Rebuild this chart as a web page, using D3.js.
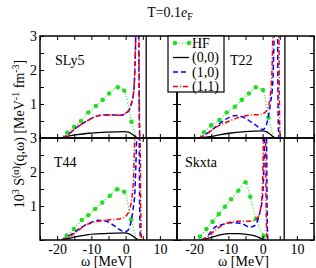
<!DOCTYPE html>
<html>
<head>
<meta charset="utf-8">
<script src="https://cdn.jsdelivr.net/npm/d3@7"></script>
<style>
  body { margin: 0; background: #fff; }
  svg { display: block; font-family: "Liberation Serif", "DejaVu Serif", serif; }
</style>
</head>
<body>
<svg id="chart" width="316" height="268"></svg>
<script>
// omega [MeV], S values
const xTicks = [-25, -20, -15, -10, -5, 0, 5, 10, 15];
const yTicks = [0, 0.5, 1, 1.5, 2, 2.5, 3];
const seriesNames = ["HF", "(0,0)", "(1,0)", "(1,1)"];
const panelNames = ["SLy5", "T22", "T44", "Skxta"];
const poles = [6.0, 6.5, 6.2, 6.3];

const sly5HF = [[-18.8, 0], [-17.0, 0.16], [-15.0, 0.33], [-13.0, 0.5], [-10.9, 0.75], [-8.7, 0.94], [-6.7, 1.12], [-4.8, 1.31], [-2.3, 1.49], [-0.4, 1.39], [1.7, 0.48], [3.2, 0]];
const sly5S00 = [[-18.5, 0], [-16.5, 0.06], [-14.7, 0.09], [-10.8, 0.14], [-5.9, 0.17], [-0.5, 0.19], [0.8, 0.17], [1.5, 0.14], [2.5, 0.07], [3.4, 0]];
const sly5S10 = [[-18.5, 0], [-16.5, 0.12], [-14.7, 0.28], [-12.5, 0.43], [-10.8, 0.53], [-9, 0.62], [-7.8, 0.66], [-6, 0.68], [-4, 0.68], [-1.5, 0.67], [0, 0.72], [1, 0.82], [1.8, 1.05], [2.4, 1.4], [2.8, 2.3], [3.1, 3.6], [3.8, 3.6], [3.95, 1.0], [4.1, 0]];
const sly5S11 = [[-18.5, 0], [-16.5, 0.12], [-14.7, 0.28], [-12.5, 0.43], [-10.8, 0.53], [-9, 0.62], [-7.8, 0.66], [-6, 0.68], [-4, 0.68], [-1.5, 0.67], [0, 0.73], [1, 0.83], [1.8, 1.06], [2.4, 1.42], [2.8, 2.35], [3.1, 3.6], [3.85, 3.6], [4.0, 1.0], [4.15, 0]];

const t22HF = [[-18.8, 0], [-17.1, 0.17], [-15.0, 0.37], [-12.6, 0.53], [-10.5, 0.75], [-8.1, 0.92], [-6.1, 1.12], [-4.0, 1.31], [-2.0, 1.49], [0.1, 1.41], [1.7, 0.6], [3.3, 0]];
const t22S00 = [[-18.5, 0], [-16, 0.03], [-13.7, 0.07], [-9.8, 0.14], [-5, 0.19], [-0.1, 0.21], [1, 0.19], [1.8, 0.14], [2.8, 0.06], [3.6, 0]];
const t22S10 = [[-18.5, 0], [-16, 0.15], [-13.7, 0.33], [-10.8, 0.55], [-7.9, 0.66], [-6.5, 0.64], [-5, 0.58], [-3.5, 0.48], [-2, 0.38], [-0.6, 0.27], [0, 0.25], [0.9, 0.33], [1.6, 0.6], [2.3, 1.02], [3.0, 1.7], [3.6, 3.6], [4.3, 3.6], [4.5, 1.0], [4.7, 0]];
const t22S11 = [[-18.5, 0], [-16.5, 0.1], [-14.7, 0.24], [-12.5, 0.38], [-10.8, 0.45], [-8.5, 0.55], [-6.9, 0.61], [-5, 0.65], [-3, 0.68], [-0.5, 0.69], [0.5, 0.74], [1.4, 0.84], [2.3, 1.31], [2.8, 2.2], [3.1, 3.6], [4.7, 3.6], [4.9, 1.0], [5.1, 0]];

const t44HF = [[-18.9, 0], [-17.2, 0.13], [-15.1, 0.32], [-12.8, 0.59], [-10.9, 0.73], [-8.9, 0.91], [-6.8, 1.10], [-4.6, 1.30], [-2.5, 1.49], [-0.4, 1.42], [1.6, 0.6], [3.2, 0]];
const t44S00 = [[-18.7, 0], [-16.5, 0.05], [-14.8, 0.09], [-10.9, 0.16], [-6, 0.19], [-0.2, 0.21], [1, 0.18], [1.8, 0.14], [2.8, 0.06], [3.7, 0]];
const t44S10 = [[-18.7, 0], [-16.5, 0.12], [-14.8, 0.24], [-12.8, 0.38], [-10.9, 0.48], [-8, 0.58], [-6.5, 0.57], [-5, 0.53], [-3.5, 0.43], [-2.1, 0.33], [-0.2, 0.24], [0.6, 0.28], [1.3, 0.43], [2.2, 0.92], [2.7, 1.41], [3.0, 2.2], [3.4, 3.6], [3.9, 3.6], [4.1, 1.0], [4.3, 0]];
const t44S11 = [[-18.7, 0], [-17, 0.06], [-15.7, 0.14], [-13.5, 0.3], [-11.9, 0.43], [-10, 0.5], [-8, 0.55], [-6, 0.58], [-4.1, 0.6], [-2, 0.62], [-0.7, 0.65], [0.6, 0.77], [1.3, 0.95], [1.8, 1.21], [2.3, 1.8], [2.9, 3.6], [4.2, 3.6], [4.4, 1.0], [4.6, 0]];

const skxtaHF = [[-19.0, 0], [-18.3, 0.1], [-16.4, 0.32], [-14.6, 0.54], [-12.8, 0.76], [-11.0, 0.98], [-9.2, 1.2], [-7.1, 1.45], [-5.0, 1.70], [-3.6, 1.27], [-1.9, 0.62], [0.3, 0.12], [1.0, 0]];
const skxtaS00 = [[-17.8, 0], [-16, 0.05], [-13.9, 0.11], [-10, 0.19], [-7.1, 0.19], [-3.2, 0.14], [-1.5, 0.09], [-0.3, 0.04], [0.7, 0]];
const skxtaS10 = [[-17.8, 0], [-15.9, 0.14], [-13.9, 0.38], [-11.9, 0.45], [-9, 0.51], [-6.1, 0.48], [-3.7, 0.38], [-2.2, 0.43], [-0.8, 0.82], [0, 1.3], [0.4, 2.2], [0.7, 3.6], [1.1, 3.6], [1.3, 1.0], [1.5, 0]];
const skxtaS11 = [[-17.8, 0], [-16.8, 0.04], [-13.9, 0.28], [-11, 0.48], [-7.1, 0.55], [-4.2, 0.55], [-1.7, 0.63], [-0.6, 0.92], [-0.1, 1.41], [0.1, 2.2], [0.3, 3.6], [0.8, 3.6], [1.0, 1.0], [1.3, 0]];

const panelData = [
  [sly5HF, sly5S00, sly5S10, sly5S11],
  [t22HF, t22S00, t22S10, t22S11],
  [t44HF, t44S00, t44S10, t44S11],
  [skxtaHF, skxtaS00, skxtaS10, skxtaS11],
];

const styles = [
  { color: "#22dd22", dash: "1,2", width: 1.2 },
  { color: "#000000", dash: null, width: 1.3 },
  { color: "#0000ff", dash: "5,3", width: 1.5 },
  { color: "#ff0000", dash: "5,2,1,2", width: 1.5 },
];

const svg = d3.select("#chart");
const padLeft = 40, padTop = 36, pw = 137, ph = 102;
const fs = "14px";
// label offset inside each panel (T22 sits right of the legend)
const labelDx = [15, 53, 14, 8];

svg.append("text")
  .attr("x", 170).attr("y", 17)
  .attr("text-anchor", "middle")
  .style("font-size", fs)
  .call((t) => {
    t.append("tspan").text("T=0.1");
    t.append("tspan").style("font-style", "italic").text("e");
    t.append("tspan").attr("dy", 3).style("font-size", "10px").text("F");
  });

panelNames.forEach((name, i) => {
  const col = i % 2, row = Math.floor(i / 2);
  const x0 = padLeft + col * pw, y0 = padTop + row * ph;
  const x = d3.scaleLinear().domain([-25, 15]).range([x0, x0 + pw]);
  const y = d3.scaleLinear().domain([0, 3]).range([y0 + ph, y0]);
  const g = svg.append("g");

  g.append("clipPath").attr("id", "clip" + i)
    .append("rect").attr("x", x0).attr("y", y0).attr("width", pw).attr("height", ph);

  const plot = g.append("g").attr("clip-path", `url(#clip${i})`);
  const line = d3.line().x((d) => x(d[0])).y((d) => y(d[1])).curve(d3.curveMonotoneX);

  // pole of the (0,0) channel
  plot.append("line")
    .attr("x1", x(poles[i])).attr("x2", x(poles[i]))
    .attr("y1", y(0)).attr("y2", y(3))
    .attr("stroke", "#000").attr("stroke-width", 1.3);

  panelData[i].forEach((data, k) => {
    const s = styles[k];
    plot.append("path")
      .attr("d", line(data))
      .attr("fill", "none")
      .attr("stroke", s.color)
      .attr("stroke-width", s.width)
      .attr("stroke-dasharray", s.dash);
    if (k === 0) {
      plot.selectAll(null)
        .data(data.slice(1, -1))
        .enter()
        .append("circle")
        .attr("cx", (d) => x(d[0]))
        .attr("cy", (d) => y(d[1]))
        .attr("r", 2.3)
        .attr("fill", s.color);
    }
  });

  const fmtX = (d) => (row === 1 && d % 10 === 0 && d > -25 && d < 15 ? d : "");
  const fmtY = (d) => (col === 0 && d % 1 === 0 && d > 0 ? d : "");

  const axes = [
    [d3.axisBottom(x).tickValues(xTicks).tickSize(-4).tickPadding(4).tickFormat(fmtX), `translate(0,${y0 + ph})`],
    [d3.axisTop(x).tickValues(xTicks).tickSize(-4).tickFormat(""), `translate(0,${y0})`],
    [d3.axisLeft(y).tickValues(yTicks).tickSize(-4).tickPadding(3).tickFormat(fmtY), `translate(${x0},0)`],
    [d3.axisRight(y).tickValues(yTicks).tickSize(-4).tickFormat(""), `translate(${x0 + pw},0)`],
  ];
  axes.forEach(([ax, tr]) => {
    const a = g.append("g").attr("transform", tr).call(ax);
    a.select(".domain").remove();
    a.attr("font-family", null).attr("font-size", null);
    a.selectAll("text").style("font-size", fs).attr("fill", "#000");
  });

  g.append("rect")
    .attr("x", x0).attr("y", y0).attr("width", pw).attr("height", ph)
    .attr("fill", "none").attr("stroke", "#000").attr("stroke-width", 1.5);

  g.append("text")
    .attr("x", x0 + labelDx[i]).attr("y", y0 + 29)
    .style("font-size", fs)
    .text(name);

  if (row === 1) {
    g.append("text")
      .attr("x", x0 + pw / 2 - 2).attr("y", 266)
      .attr("text-anchor", "middle")
      .style("font-size", fs)
      .text("ω [MeV]");
  }
});

// y axis title
svg.append("text")
  .attr("transform", "translate(24,134) rotate(-90)")
  .attr("text-anchor", "middle")
  .style("font-size", fs)
  .call((t) => {
    t.append("tspan").text("10");
    t.append("tspan").attr("dy", -5).style("font-size", "10px").text("3");
    t.append("tspan").attr("dy", 5).text(" S");
    t.append("tspan").attr("dy", -5).style("font-size", "10px").text("(α)");
    t.append("tspan").attr("dy", 5).text("(q,ω) [MeV");
    t.append("tspan").attr("dy", -5).style("font-size", "10px").text("-1");
    t.append("tspan").attr("dy", 5).text(" fm");
    t.append("tspan").attr("dy", -5).style("font-size", "10px").text("-3");
    t.append("tspan").attr("dy", 5).text("]");
  });

// legend
const lx = 168, ly = 36;
const legend = svg.append("g");
legend.append("rect")
  .attr("x", lx).attr("y", ly).attr("width", 56).attr("height", 56)
  .attr("fill", "#fff").attr("stroke", "#000").attr("stroke-width", 1.2);
seriesNames.forEach((name, k) => {
  const s = styles[k];
  const cy = ly + 7 + k * 14.5;
  legend.append("line")
    .attr("x1", lx + 5).attr("x2", lx + 21)
    .attr("y1", cy).attr("y2", cy)
    .attr("stroke", s.color)
    .attr("stroke-width", s.width)
    .attr("stroke-dasharray", s.dash);
  if (k === 0) {
    [lx + 7, lx + 21].forEach((cx) =>
      legend.append("circle").attr("cx", cx).attr("cy", cy).attr("r", 2.3).attr("fill", s.color));
  }
  legend.append("text")
    .attr("x", lx + 24).attr("y", cy + 4.5)
    .style("font-size", fs)
    .text(name);
});
</script>
</body>
</html>
